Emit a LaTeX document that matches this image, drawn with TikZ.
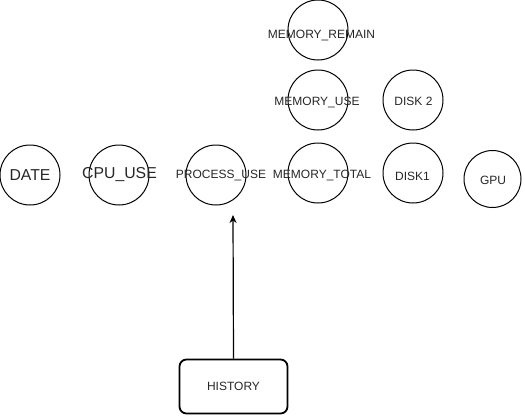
\documentclass[tikz,border=0pt]{standalone}
\usepackage{fontspec}
\setmainfont{Liberation Sans}
\usetikzlibrary{arrows.meta}
\begin{document}
\begin{tikzpicture}[x=1pt,y=-1pt,
  circ/.style={circle,draw=black,line width=1pt,minimum size=60pt,inner sep=0pt},
  lbl/.style={inner sep=0pt,text=black!85,text depth=0pt},
  small/.style={font=\fontsize{12}{14}\selectfont,text height=8.6pt},
  big/.style={font=\fontsize{15.8}{18}\selectfont,text height=11.3pt},
  hbox/.style={draw=black,line width=1.8pt,rounded corners=7pt,minimum width=108pt,minimum height=54pt,inner sep=0pt}]
\useasboundingbox (0,0) rectangle (525,416);
% circles
\node[circ] (date) at (30,175) {};
\node[circ] (cpu) at (119,175) {};
\node[circ] (proc) at (216,175) {};
\node[circ] (mremain) at (318,30) {};
\node[circ] (muse) at (318,100) {};
\node[circ] (mtotal) at (318,173) {};
\node[circ] (disk2) at (413,100) {};
\node[circ] (disk1) at (413,173) {};
\node[circ,minimum size=57pt] (gpu) at (492.5,179) {};
% labels
\node[lbl,big] (tdate) at (30,175) {DATE};
\node[lbl,big] (tcpu) at (119.5,173) {CPU\_USE};
\node[lbl,small] (tproc) at (221,174.5) {PROCESS\_USE};
\node[lbl,small] (tmremain) at (321.5,34) {MEMORY\_REMAIN};
\node[lbl,small] (tmuse) at (317,101.5) {MEMORY\_USE};
\node[lbl,small] (tmtotal) at (322,174) {MEMORY\_TOTAL};
\node[lbl,small] (tdisk2) at (413.5,101.5) {DISK 2};
\node[lbl,small] (tdisk1) at (412.5,176) {DISK1};
\node[lbl,small] (tgpu) at (493,180) {GPU};
% history
\node[hbox] (hist) at (233.5,386.5) {};
\node[lbl,small] (thist) at (233.5,386.5) {HISTORY};
\coordinate (tip) at (233,215);
\draw[line width=1.2pt,-{Stealth[length=8pt,width=7pt]}] (hist.north) -- (tip);
\end{tikzpicture}
\end{document}
